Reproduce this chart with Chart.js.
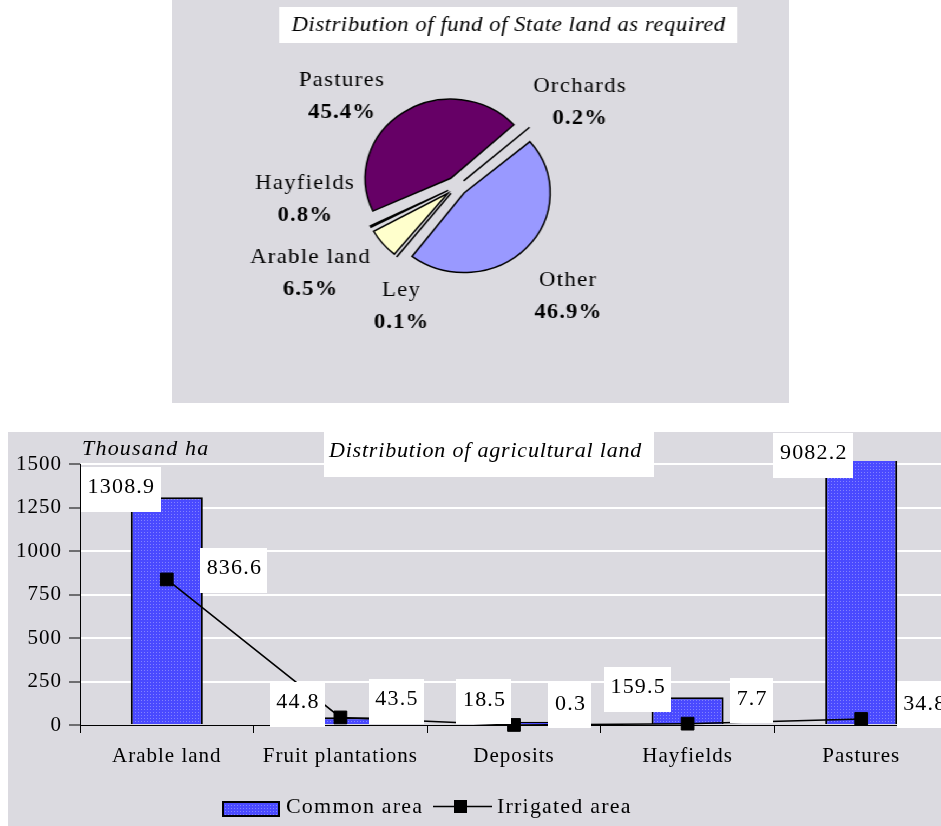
<!DOCTYPE html>
<html>
<head>
<meta charset="utf-8">
<script src="https://cdn.jsdelivr.net/npm/chart.js@4.4.0/dist/chart.umd.min.js"></script>
<style>
  html, body { margin: 0; padding: 0; background: #fff; overflow: hidden; width: 941px; height: 826px; }
  #pieBox { position: absolute; left: 172px; top: 0; width: 570px; height: 403px;
            transform: scaleX(1.0825); transform-origin: 0 0; background: #dbdae0; }
  #barBox { position: absolute; left: 8px; top: 432px; width: 952px; height: 394px; background: #dbdae0; }
</style>
</head>
<body>
<div id="pieBox"><canvas id="pie"></canvas></div>
<div id="barBox"><canvas id="bar"></canvas></div>
<script>
// Fund of State land by purpose, percent of total
const pieLabels = ['Other', 'Ley', 'Arable land', 'Hayfields', 'Pastures', 'Orchards'];
const pieShares = [46.9, 0.1, 6.5, 0.8, 45.4, 0.2];
const pieColors = ['#9999ff', '#993366', '#ffffcc', '#ccffff', '#660066', '#ff8080'];

// Agricultural land, thousand ha
const landTypes = ['Arable land', 'Fruit plantations', 'Deposits', 'Hayfields', 'Pastures'];
const commonArea = [1308.9, 44.8, 18.5, 159.5, 9082.2];
const irrigatedArea = [836.6, 43.5, 0.3, 7.7, 34.8];
const yTicks = [0, 250, 500, 750, 1000, 1250, 1500];

const SERIF = '"Liberation Serif", "Times New Roman", serif';

/* ---------- pie: distribution of the State land fund ---------- */
const pieTotal = pieShares.reduce((a, b) => a + b, 0);
const EXPLODE = 17; // distance each slice is pulled out, px

const pieText = {
  id: 'pieText',
  afterDraw(chart, args, opts) {
    const ctx = chart.ctx;
    const arc = chart.getDatasetMeta(0).data[0];
    const cx = arc.x, cy = arc.y;
    ctx.save();
    ctx.fillStyle = '#000';
    ctx.textAlign = 'center';
    ctx.textBaseline = 'middle';
    pieLabels.forEach((name, i) => {
      const [dx, dy] = opts.place[i];
      ctx.font = '21px ' + SERIF;
      ctx.letterSpacing = '1.2px';
      ctx.fillText(name, cx + dx, cy + dy - 16);
      ctx.font = 'bold 21px ' + SERIF;
      ctx.letterSpacing = '1px';
      ctx.fillText(pieShares[i].toFixed(1) + '%', cx + dx, cy + dy + 16);
    });
    // title in a white box
    ctx.font = 'italic 21px ' + SERIF;
    ctx.letterSpacing = '0.5px';
    const t = opts.title;
    const w = ctx.measureText(t).width + 22;
    ctx.fillStyle = '#fff';
    ctx.fillRect(Math.round(opts.titleX - w / 2), 7, Math.round(w), 36);
    ctx.fillStyle = '#000';
    ctx.fillText(t, opts.titleX, 25);
    ctx.restore();
  }
};

new Chart(document.getElementById('pie'), {
  type: 'pie',
  data: {
    labels: pieLabels,
    datasets: [{
      data: pieShares,
      backgroundColor: pieColors,
      borderColor: '#000',
      borderWidth: 1.5,
      borderJoinStyle: 'miter',
      // arcs are translated by offset*(2 - sin(circumference))/4
      offset: (c) => {
        const circ = c.raw / pieTotal * Math.PI * 2;
        return EXPLODE * 4 / (2 - Math.sin(Math.min(Math.PI, circ)));
      }
    }]
  },
  options: {
    responsive: true,
    maintainAspectRatio: false,
    animation: false,
    events: [],
    rotation: 49,
    radius: 72,
    layout: { padding: { left: 0, right: 44, top: 0, bottom: 30 } },
    plugins: {
      legend: { display: false },
      tooltip: { enabled: false },
      title: { display: false },
      pieText: {
        title: 'Distribution of fund of State land as required',
        titleX: 311,
        place: [[103, 110], [-51, 120], [-135, 87], [-140, 13], [-106, -90], [114, -84]]
      }
    }
  },
  plugins: [pieText]
});

/* ---------- bars + line: distribution of agricultural land ---------- */
const barCanvas = document.getElementById('bar');
const tile = document.createElement('canvas');
tile.width = 3; tile.height = 3;
const tctx = tile.getContext('2d');
tctx.fillStyle = '#4a4aff'; tctx.fillRect(0, 0, 3, 3);
tctx.fillStyle = '#8282ff'; tctx.fillRect(1, 1, 1, 1);
const barFill = barCanvas.getContext('2d').createPattern(tile, 'repeat');

const textSpacing = {
  id: 'textSpacing',
  beforeDraw(chart) { chart.ctx.letterSpacing = '1px'; }
};

const valueBoxes = {
  id: 'valueBoxes',
  afterDatasetsDraw(chart, args, opts) {
    const { ctx, chartArea } = chart;
    ctx.save();
    ctx.font = '22px ' + SERIF;
    ctx.letterSpacing = '1.2px';
    ctx.textAlign = 'center';
    ctx.textBaseline = 'alphabetic';
    chart.data.datasets.forEach((ds, di) => {
      const meta = chart.getDatasetMeta(di);
      meta.data.forEach((el, i) => {
        const top = Math.max(el.y, chartArea.top - 3);
        const [dx, dy] = opts.shifts[di][i];
        const txt = ds.data[i].toFixed(1);
        const w = ctx.measureText(txt).width + 12;
        const h = 45;
        const bx = el.x + dx, by = top + dy;
        ctx.fillStyle = '#fff';
        ctx.fillRect(Math.round(bx - w / 2), Math.round(by - h / 2), Math.round(w), h);
        ctx.fillStyle = '#000';
        ctx.fillText(txt, bx + 0.6, by + 4);
      });
    });
    ctx.restore();
  }
};

const barDecor = {
  id: 'barDecor',
  afterDraw(chart, args, opts) {
    const ctx = chart.ctx;
    ctx.save();
    ctx.textAlign = 'left';
    ctx.textBaseline = 'middle';
    // unit caption
    ctx.font = 'italic 22px ' + SERIF;
    ctx.letterSpacing = '1.2px';
    ctx.fillStyle = '#000';
    ctx.fillText(opts.unit, 74, 17);
    // chart title in a white box
    ctx.letterSpacing = '0.8px';
    const tw = ctx.measureText(opts.title).width;
    ctx.fillStyle = '#fff';
    ctx.fillRect(316, 0, Math.round(tw + 17), 45);
    ctx.fillStyle = '#000';
    ctx.fillText(opts.title, 321, 19);
    // legend
    ctx.font = '22px ' + SERIF;
    ctx.letterSpacing = '1.2px';
    ctx.textBaseline = 'alphabetic';
    ctx.fillStyle = barFill;
    ctx.fillRect(215, 370, 56, 14);
    ctx.strokeStyle = '#000';
    ctx.lineWidth = 2;
    ctx.strokeRect(215, 370, 56, 14);
    ctx.fillStyle = '#000';
    ctx.fillText(chart.data.datasets[0].label, 278, 381);
    ctx.lineWidth = 1.5;
    ctx.beginPath();
    ctx.moveTo(425, 374.5);
    ctx.lineTo(484, 374.5);
    ctx.stroke();
    ctx.fillRect(446, 368, 13, 13);
    ctx.fillText(chart.data.datasets[1].label, 489, 381);
    ctx.restore();
  }
};

new Chart(barCanvas, {
  type: 'bar',
  data: {
    labels: landTypes,
    datasets: [
      {
        type: 'bar',
        label: 'Common area',
        data: commonArea,
        backgroundColor: barFill,
        borderColor: '#000',
        borderWidth: 2,
        barPercentage: 0.415,
        categoryPercentage: 1.0,
        clip: { left: 0, top: 3, right: 0, bottom: 0 },
        order: 2
      },
      {
        type: 'line',
        label: 'Irrigated area',
        data: irrigatedArea,
        borderColor: '#000',
        borderWidth: 1.5,
        tension: 0,
        pointStyle: 'rect',
        pointRadius: 9,
        pointBackgroundColor: '#000',
        pointBorderColor: '#000',
        pointBorderWidth: 1,
        clip: false,
        order: 1
      }
    ]
  },
  options: {
    responsive: true,
    maintainAspectRatio: false,
    animation: false,
    events: [],
    layout: { padding: { left: 0, right: 12, top: 32, bottom: 0 } },
    scales: {
      x: {
        offset: true,
        grid: { offset: true, drawOnChartArea: false, tickColor: '#000', tickLength: 8, tickWidth: 1 },
        border: { color: '#000', width: 1 },
        ticks: { color: '#000', font: { family: SERIF, size: 21 }, padding: 11, maxRotation: 0 },
        afterFit: (s) => { s.height = 101; }
      },
      y: {
        min: 0,
        max: 1500,
        afterBuildTicks: (s) => { s.ticks = yTicks.map(v => ({ value: v })); },
        grid: {
          color: (c) => (c.tick && c.tick.value === 0 ? 'rgba(0,0,0,0)' : '#ffffff'),
          lineWidth: 2,
          tickColor: '#000',
          tickWidth: 1,
          tickLength: 11
        },
        border: { color: '#000', width: 1 },
        ticks: { color: '#000', font: { family: SERIF, size: 21 }, padding: 7, callback: (v) => String(v) },
        afterFit: (s) => { s.width = 72; }
      }
    },
    plugins: {
      legend: { display: false },
      tooltip: { enabled: false },
      valueBoxes: {
        shifts: [
          [[-46, -8], [-43, -13], [-30, -20], [-50, -8], [-48, -6]],
          [[67, -9], [56, -16], [56, -19], [64, -23], [63, -13]]
        ]
      },
      barDecor: {
        unit: 'Thousand ha',
        title: 'Distribution of agricultural land'
      }
    }
  },
  plugins: [textSpacing, valueBoxes, barDecor]
});
</script>
</body>
</html>
